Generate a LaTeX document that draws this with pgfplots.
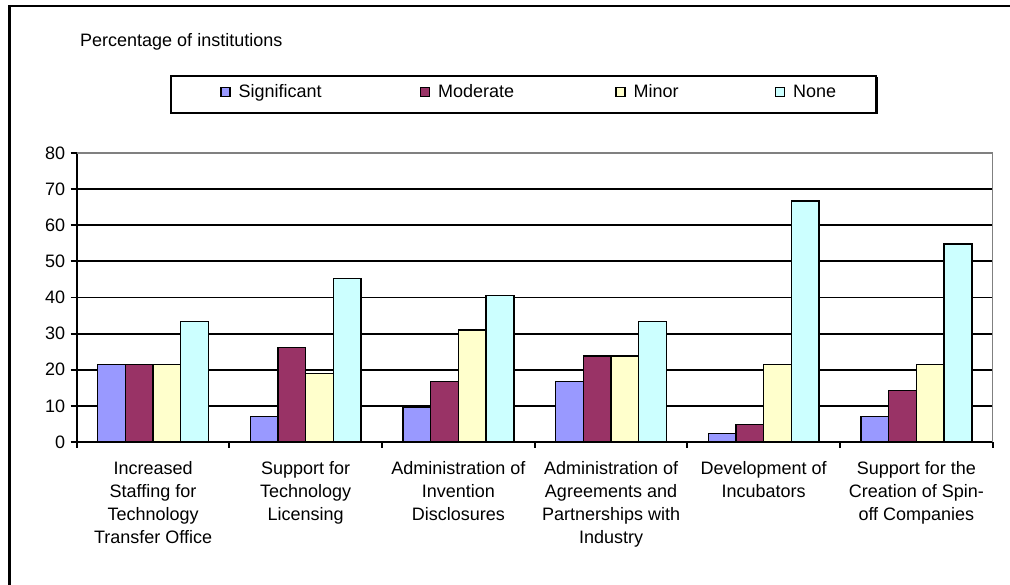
\documentclass[border=0pt]{standalone}
\usepackage{pgfplots}
\pgfplotsset{compat=1.18}
\usepackage{fontspec}
\setmainfont{Liberation Sans}
\usetikzlibrary{shadows}

\definecolor{sigc}{HTML}{9999FF}
\definecolor{modc}{HTML}{993366}
\definecolor{minc}{HTML}{FFFFCC}
\definecolor{nonc}{HTML}{CCFFFF}
\definecolor{frameg}{HTML}{808080}

\newcommand{\chartfont}{\fontsize{18}{23}\selectfont}

\begin{document}
\begin{tikzpicture}[x=1pt,y=1pt]
\useasboundingbox (0,0) rectangle (1010,585);
\fill[white] (0,0) rectangle (1010,585);
% chart area frame (open towards right and bottom)
\draw[black, line width=2.5pt] (9.7,-10) -- (9.7,579) -- (1020,579);
% legend frame with shadow
\draw[black, line width=2pt, fill=white,
      drop shadow={shadow xshift=1.5pt, shadow yshift=-1.5pt, fill=black, opacity=1}]
      (171,472) rectangle (876,509);
% value axis title
\node[anchor=base west, inner sep=0pt, font=\chartfont] at (80,538) {Percentage of institutions};

\begin{axis}[
  scale only axis, width=916pt, height=289pt,
  at={(76.7pt,143pt)}, anchor=south west,
  ybar=0pt, bar width=27.7pt,
  xmin=-0.5, xmax=5.5, ymin=0, ymax=80,
  axis x line*=bottom, axis y line*=left,
  axis line style={line width=1.8pt, black},
  tick align=outside, major tick length=6pt,
  tick style={line width=1.8pt, black},
  ytick={0,10,...,70}, extra y ticks={80}, extra y tick style={grid=none},
  ymajorgrids, major grid style={black, line width=1.8pt},
  xtick={-0.5,0.5,...,5.5}, xticklabels={{},{},{},{},{},{},{}},
  extra x ticks={0,1,2,3,4,5},
  extra x tick style={tick style={draw=none}},
  extra x tick labels={
    {Increased\\Staffing for\\Technology\\Transfer Office},
    {Support for\\Technology\\Licensing},
    {Administration of\\Invention\\Disclosures},
    {Administration of\\Agreements and\\Partnerships with\\Industry},
    {Development of\\Incubators},
    {Support for the\\Creation of Spin-\\off Companies}},
  /pgf/number format/assume math mode=true,
  tick label style={font=\chartfont},
  xticklabel style={align=center, anchor=north, yshift=-10pt},
  yticklabel style={xshift=-2pt},
  legend columns=4,
  legend style={at={(0.1564,1.2111)}, anchor=west, draw=none, fill=none,
    inner sep=0pt, font=\chartfont, nodes={inner xsep=0pt, inner ysep=1pt},
    /tikz/every odd column/.append style={column sep=8pt}},
  legend image code/.code={\draw[#1, draw=black, line width=1.5pt] (0pt,-4.5pt) rectangle (9pt,4.5pt);},
  after end axis/.code={
    \draw[frameg, line width=1.5pt] (rel axis cs:0,1) -- (rel axis cs:1,1) -- (rel axis cs:1,0);
  },
]
\addplot[fill=sigc, draw=black, line width=1.5pt] coordinates {(0,21.4) (1,7.1) (2,9.5) (3,16.7) (4,2.4) (5,7.1)};
\addlegendentry{\makebox[181pt][l]{Significant}}
\addplot[fill=modc, draw=black, line width=1.5pt] coordinates {(0,21.4) (1,26.2) (2,16.7) (3,23.8) (4,4.8) (5,14.3)};
\addlegendentry{\makebox[177pt][l]{Moderate}}
\addplot[fill=minc, draw=black, line width=1.5pt] coordinates {(0,21.4) (1,19.0) (2,31.0) (3,23.8) (4,21.4) (5,21.4)};
\addlegendentry{\makebox[141pt][l]{Minor}}
\addplot[fill=nonc, draw=black, line width=1.5pt] coordinates {(0,33.3) (1,45.2) (2,40.5) (3,33.3) (4,66.7) (5,54.8)};
\addlegendentry{None}
\end{axis}
\end{tikzpicture}
\end{document}
